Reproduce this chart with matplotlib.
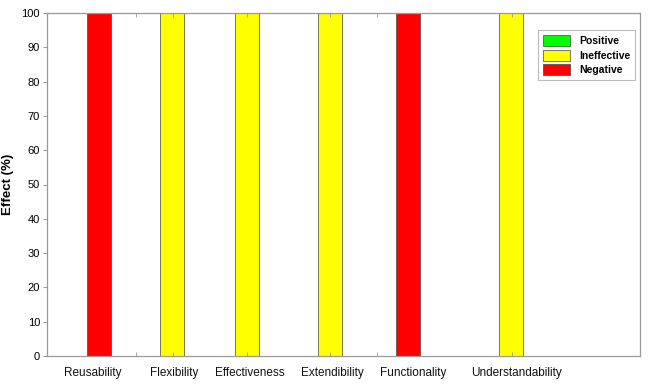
import numpy as np
import matplotlib.pyplot as plt

plt.rcParams['font.family'] = ['Liberation Sans', 'DejaVu Sans']

categories = ['Reusability', 'Flexibility', 'Effectiveness', 'Extendibility',
              'Functionality', 'Understandability']
# x position of each category (axis spans 0..10)
cat_pos = [0.877, 2.116, 3.373, 4.772, 6.081, 7.825]
positive = [0, 0, 0, 0, 0, 0]
ineffective = [0, 100, 100, 100, 0, 100]
negative = [100, 0, 0, 0, 100, 0]
label_pos = [0.776, 2.142, 3.423, 4.806, 6.172, 7.909]
minor_ticks = [1.509, 2.121, 3.373, 4.772, 5.565, 7.842]

fig = plt.figure(figsize=(6.6, 3.85), dpi=100)
ax = fig.add_axes([47 / 660, 1 - 356 / 385, 593 / 660, 343 / 385])

w = 0.405
ax.bar(cat_pos, positive, width=w, color='#00ff00', edgecolor='#444444', linewidth=0.5, label='Positive')
ax.bar(cat_pos, ineffective, width=w, color='#ffff00', edgecolor='#444444', linewidth=0.5, label='Ineffective')
ax.bar(cat_pos, negative, width=w, color='#ff0000', edgecolor='#444444', linewidth=0.5, label='Negative')

ax.set_xlim(0, 10)
ax.set_ylim(0, 100)
ax.set_yticks(np.arange(0, 101, 10))
ax.set_xticks(label_pos)
ax.set_xticklabels(categories, fontsize=8.5, color='#111111')
ax.set_xticks(minor_ticks, minor=True)
ax.tick_params(axis='x', which='major', length=0, pad=8)
ax.tick_params(axis='x', which='minor', direction='in', length=3, color='#999999', top=True)
ax.tick_params(axis='y', labelsize=8, length=3, color='#999999', pad=2)
ax.set_ylabel('Effect (%)', fontsize=9.5, fontweight='bold')
ax.yaxis.set_label_coords(-0.055, 0.5)

for s in ax.spines.values():
    s.set_color('#999999')
    s.set_linewidth(0.9)

leg = ax.legend(loc='upper right', bbox_to_anchor=(0.992, 0.95), borderaxespad=0,
                fontsize=7.5, frameon=True, fancybox=False, handlelength=2.6,
                handleheight=1.2, labelspacing=0.35, borderpad=0.5)
leg.get_frame().set_edgecolor('#aaaaaa')
leg.get_frame().set_linewidth(0.8)
for t in leg.get_texts():
    t.set_fontweight('bold')

fig.savefig('out.png', dpi=100)
